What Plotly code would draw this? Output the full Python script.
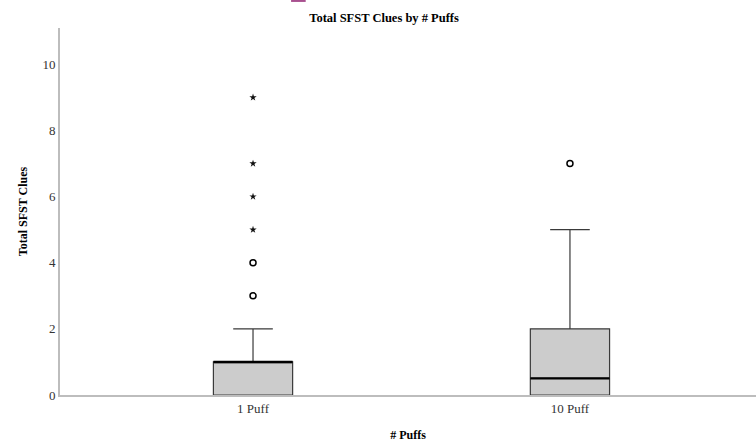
import plotly.graph_objects as go

categories = ["1 Puff", "10 Puff"]
q1 = [0, 0]
median = [1, 0.5]
q3 = [1, 2]
lower_fence = [0, 0]
upper_fence = [2, 5]
circle_x = ["1 Puff", "1 Puff", "10 Puff"]
circle_y = [3, 4, 7]
star_x = ["1 Puff", "1 Puff", "1 Puff", "1 Puff"]
star_y = [5, 6, 7, 9]
y_ticks = [0, 2, 4, 6, 8, 10]

serif = "Liberation Serif, Times New Roman, serif"
box_w = 0.25

fig = go.Figure()
fig.add_trace(go.Box(
    x=categories, q1=q1, median=median, q3=q3,
    lowerfence=lower_fence, upperfence=upper_fence,
    fillcolor="#cccccc", line=dict(color="#3a3a3a", width=1.2),
    width=box_w, whiskerwidth=0.5, boxpoints=False, showlegend=False,
    hoverinfo="skip",
))
fig.add_trace(go.Scatter(
    x=circle_x, y=circle_y, mode="markers", showlegend=False,
    marker=dict(symbol="circle-open", size=6, color="black", line=dict(width=1.5, color="black")),
))
fig.add_trace(go.Scatter(
    x=star_x, y=star_y, mode="markers", showlegend=False,
    marker=dict(symbol="star", size=5.5, color="#111111"),
))

shapes = []
for i, m in enumerate(median):
    shapes.append(dict(type="line", xref="x", yref="y",
                       x0=i - box_w / 2, x1=i + box_w / 2, y0=m, y1=m,
                       line=dict(color="black", width=2.2)))
# small clipped artifact at the top of the image
shapes.append(dict(type="rect", xref="paper", yref="paper",
                   x0=0.332, x1=0.353, y0=1.071, y1=1.08,
                   fillcolor="#a8508f", line=dict(width=0)))

fig.update_layout(
    width=756, height=444,
    margin=dict(l=60, r=0, t=28, b=49),
    plot_bgcolor="white", paper_bgcolor="white",
    font=dict(family=serif, size=13, color="#333333"),
    title=dict(text="<b>Total SFST Clues by # Puffs</b>", x=0.508, xanchor="center",
               y=0.96, yanchor="middle", font=dict(family=serif, size=12.5, color="black")),
    shapes=shapes,
    xaxis=dict(
        type="category", categoryorder="array", categoryarray=categories,
        range=[-0.609, 1.587], showgrid=False, zeroline=False,
        showline=True, linecolor="#bdbdbd", linewidth=2, ticks="",
        tickfont=dict(family=serif, size=13, color="#333333"),
        title=dict(text="<b># Puffs</b>", font=dict(family=serif, size=12, color="black"), standoff=16),
    ),
    yaxis=dict(
        range=[0, 11.1], tickvals=y_ticks, showgrid=False, zeroline=False,
        showline=True, linecolor="#bdbdbd", linewidth=2, ticks="",
        tickfont=dict(family=serif, size=13, color="#333333"),
        title=dict(text="<b>Total SFST Clues</b>", font=dict(family=serif, size=12, color="black"), standoff=12),
    ),
)

fig.write_html("out.html", config={"displayModeBar": False},
               post_script="document.body.style.margin='0px';document.body.style.padding='0px';")
